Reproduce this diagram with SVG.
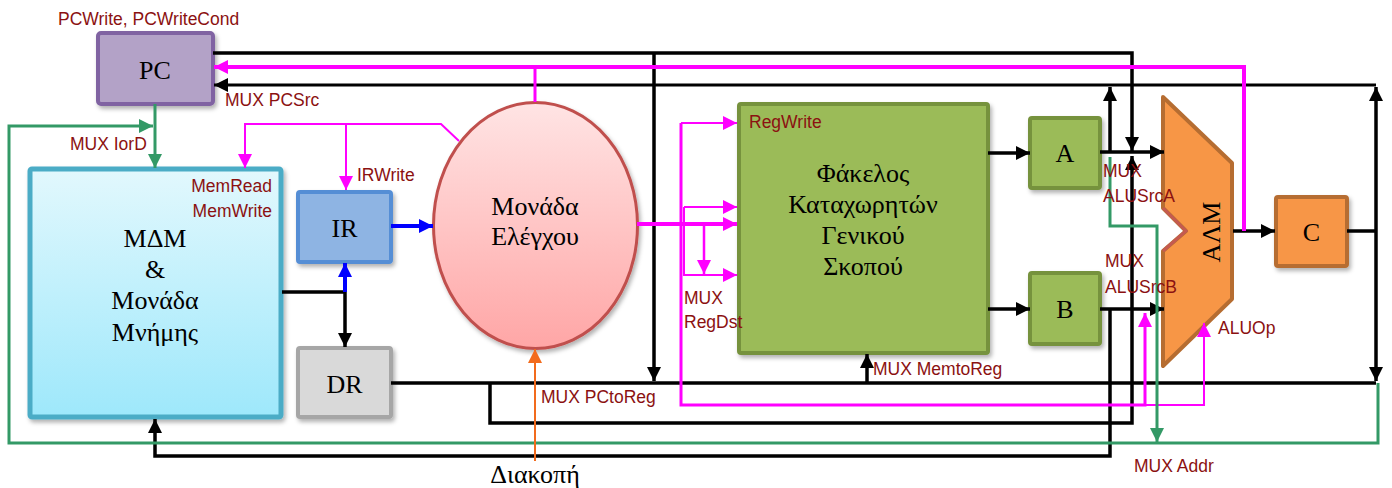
<svg xmlns="http://www.w3.org/2000/svg" width="1392" height="488" viewBox="0 0 1392 488">
<style>
.lbl{font-family:"Liberation Sans",Arial,sans-serif;font-size:17.5px;fill:#8b1111}
.nt{font-family:"Liberation Serif","Times New Roman",serif;font-size:26px;fill:#000;text-anchor:middle}
.k{fill:none;stroke:#000;stroke-width:3.5}
.m{fill:none;stroke:#ff00ff;stroke-width:3.5}
.mt{fill:none;stroke:#ff00ff;stroke-width:2}
.g{fill:none;stroke:#339966;stroke-width:3}
.bl{fill:none;stroke:#0000ff;stroke-width:4}
.o{fill:none;stroke:#f26b1d;stroke-width:2}
</style>
<defs>
<marker id="ak" viewBox="0 0 14 14" refX="14" refY="7" markerWidth="14" markerHeight="14" markerUnits="userSpaceOnUse" orient="auto"><path d="M0,0 L14,7 L0,14 z" fill="#000"/></marker>
<marker id="am" viewBox="0 0 14 14" refX="14" refY="7" markerWidth="14" markerHeight="14" markerUnits="userSpaceOnUse" orient="auto"><path d="M0,0 L14,7 L0,14 z" fill="#ff00ff"/></marker>
<marker id="ag" viewBox="0 0 14 14" refX="14" refY="7" markerWidth="14" markerHeight="14" markerUnits="userSpaceOnUse" orient="auto"><path d="M0,0 L14,7 L0,14 z" fill="#339966"/></marker>
<marker id="ab" viewBox="0 0 14 14" refX="14" refY="7" markerWidth="15" markerHeight="14" markerUnits="userSpaceOnUse" orient="auto"><path d="M0,0 L14,7 L0,14 z" fill="#0000ff"/></marker>
<marker id="ao" viewBox="0 0 14 14" refX="14" refY="7" markerWidth="14" markerHeight="14" markerUnits="userSpaceOnUse" orient="auto"><path d="M0,0 L14,7 L0,14 z" fill="#f26b1d"/></marker>
<linearGradient id="gMem" x1="0" y1="0" x2="0" y2="1"><stop offset="0" stop-color="#e2f8fd"/><stop offset="1" stop-color="#9ee8fb"/></linearGradient>
<linearGradient id="gCtl" x1="0" y1="0" x2="0" y2="1"><stop offset="0" stop-color="#ffe4e4"/><stop offset="1" stop-color="#ffa6a6"/></linearGradient>
<filter id="sh" x="-10%" y="-10%" width="130%" height="130%"><feDropShadow dx="2" dy="3" stdDeviation="2" flood-color="#000" flood-opacity="0.3"/></filter>
</defs>

<g id="pc"><rect x="98" y="33" width="115" height="71" rx="3" fill="#b3a2c7" stroke="#8064a2" stroke-width="4" filter="url(#sh)"/><text class="nt" x="155" y="79">PC</text></g>
<g id="memory"><rect x="30" y="169" width="251" height="248" rx="2" fill="url(#gMem)" stroke="#4bacc6" stroke-width="5" filter="url(#sh)"/>
<text class="nt" x="155" y="247">ΜΔΜ</text><text class="nt" x="155" y="278">&amp;</text><text class="nt" x="155" y="309">Μονάδα</text><text class="nt" x="155" y="341">Μνήμης</text></g>
<g id="ir"><rect x="298" y="192" width="93" height="70" rx="2" fill="#8eb4e3" stroke="#558ed5" stroke-width="4" filter="url(#sh)"/><text class="nt" x="344.5" y="237">IR</text></g>
<g id="dr"><rect x="298" y="348" width="93" height="69" rx="2" fill="#d9d9d9" stroke="#a6a6a6" stroke-width="4" filter="url(#sh)"/><text class="nt" x="344.5" y="393">DR</text></g>
<g id="control"><ellipse cx="535.5" cy="225.5" rx="102" ry="123" fill="url(#gCtl)" stroke="#c0504d" stroke-width="3" filter="url(#sh)"/><text class="nt" x="535" y="215">Μονάδα</text><text class="nt" x="535" y="245">Ελέγχου</text></g>
<g id="regfile"><rect x="739" y="104" width="249" height="249" rx="2" fill="#9bbb59" stroke="#76923c" stroke-width="4" filter="url(#sh)"/>
<text class="nt" x="863" y="182">Φάκελος</text><text class="nt" x="863" y="213">Καταχωρητών</text><text class="nt" x="863" y="244">Γενικού</text><text class="nt" x="863" y="275">Σκοπού</text></g>
<g id="a"><rect x="1030" y="118" width="70" height="70" rx="2" fill="#9bbb59" stroke="#76923c" stroke-width="4" filter="url(#sh)"/><text class="nt" x="1065" y="162">A</text></g>
<g id="b"><rect x="1030" y="273" width="70" height="71" rx="2" fill="#9bbb59" stroke="#76923c" stroke-width="4" filter="url(#sh)"/><text class="nt" x="1065" y="318">B</text></g>
<g id="alu"><polygon points="1163,97 1232,163 1232,299 1163,366 1163,251 1186,231 1163,208" fill="#f79646" stroke="#b66d31" stroke-width="4" stroke-linejoin="round"/>
<polyline points="1163,208 1186,231 1163,251" fill="none" stroke="#c55a50" stroke-width="3"/>
<text class="nt" transform="translate(1211,232) rotate(-90)" x="0" y="9">ΑΛΜ</text></g>
<g id="c"><rect x="1276" y="197" width="71" height="69" rx="2" fill="#f79646" stroke="#b66d31" stroke-width="4" filter="url(#sh)"/><text class="nt" x="1311.5" y="241">C</text></g>

<g id="connectors">
<path class="k" d="M213,53 H1132 V151" marker-end="url(#ak)"/>
<path class="k" d="M654,53 V381" marker-end="url(#ak)"/>
<path class="k" d="M1233,231 H1275" marker-end="url(#ak)"/>
<path class="k" d="M1347,231 H1376"/>
<path class="k" d="M1376,231 V87" marker-end="url(#ak)"/>
<path class="k" d="M1376,231 V381" marker-end="url(#ak)"/>
<path class="k" style="stroke-width:3" d="M1376,85 H214" marker-end="url(#ak)"/>
<path class="k" d="M1110,152 V87" marker-end="url(#ak)"/>
<path class="k" d="M988,153 H1030" marker-end="url(#ak)"/>
<path class="k" d="M988,309 H1030" marker-end="url(#ak)"/>
<path class="k" d="M1100,152 H1164" marker-end="url(#ak)"/>
<path class="k" d="M1100,309 H1164" marker-end="url(#ak)"/>
<path class="k" d="M1110,309 V456 H155 V419" marker-end="url(#ak)"/>
<path class="k" d="M282,292 H345 V347" marker-end="url(#ak)"/>
<path class="bl" d="M345,292 V263" marker-end="url(#ab)"/>
<path class="bl" d="M391,226 H433" marker-end="url(#ab)"/>
<path class="k" d="M391,383 H1376"/>
<path class="k" d="M490,383 V423 H1132 V156" marker-end="url(#ak)"/>
<path class="k" d="M867,383 V354" marker-end="url(#ak)"/>
<path class="m" style="stroke-width:4" d="M1244,231 V67 H214" marker-end="url(#am)"/>
<path class="m" style="stroke-width:3" d="M535,102 V67"/>
<path class="m" style="stroke-width:4" d="M637,224 H737" marker-end="url(#am)"/>
<path class="mt" d="M681,123 H737" marker-end="url(#am)"/>
<path class="m" style="stroke-width:3" d="M681,123 V405 H1145 V313" marker-end="url(#am)"/>
<path class="mt" d="M1145,405 H1204 V323" marker-end="url(#am)"/>
<path class="mt" d="M684,207 H737" marker-end="url(#am)"/>
<path class="mt" d="M684,207 V275 H737" marker-end="url(#am)"/>
<path class="m" style="stroke-width:2.5" d="M704,224 V274" marker-end="url(#am)"/>
<path class="mt" d="M459,141 L441,124 H245 V168" marker-end="url(#am)"/>
<path class="mt" d="M346,124 V190" marker-end="url(#am)"/>
<path class="g" d="M155,104 V168" marker-end="url(#ag)"/>
<path class="g" d="M1378,383 V443 H9 V126 H153" marker-end="url(#ag)"/>
<path class="g" d="M1110,157 V226 H1157 V442" marker-end="url(#ag)"/>
<path class="o" d="M535,461 V349" marker-end="url(#ao)"/>
</g>

<g id="labels">
<text class="lbl" x="58" y="25">PCWrite, PCWriteCond</text>
<text class="lbl" x="225" y="106">MUX PCSrc</text>
<text class="lbl" x="70" y="150">MUX IorD</text>
<text class="lbl" x="272" y="192" text-anchor="end">MemRead</text>
<text class="lbl" x="272" y="217" text-anchor="end">MemWrite</text>
<text class="lbl" x="357" y="181">IRWrite</text>
<text class="lbl" x="749" y="128">RegWrite</text>
<text class="lbl" x="684" y="304">MUX</text>
<text class="lbl" x="684" y="328">RegDst</text>
<text class="lbl" x="541" y="403">MUX PCtoReg</text>
<text class="lbl" x="873" y="375">MUX MemtoReg</text>
<text class="lbl" x="1103" y="177">MUX</text>
<text class="lbl" x="1103" y="202">ALUSrcA</text>
<text class="lbl" x="1105" y="267">MUX</text>
<text class="lbl" x="1105" y="293">ALUSrcB</text>
<text class="lbl" x="1218" y="334">ALUOp</text>
<text class="lbl" x="1134" y="472">MUX Addr</text>
<text class="nt" x="535" y="483">Διακοπή</text>
</g>
</svg>
